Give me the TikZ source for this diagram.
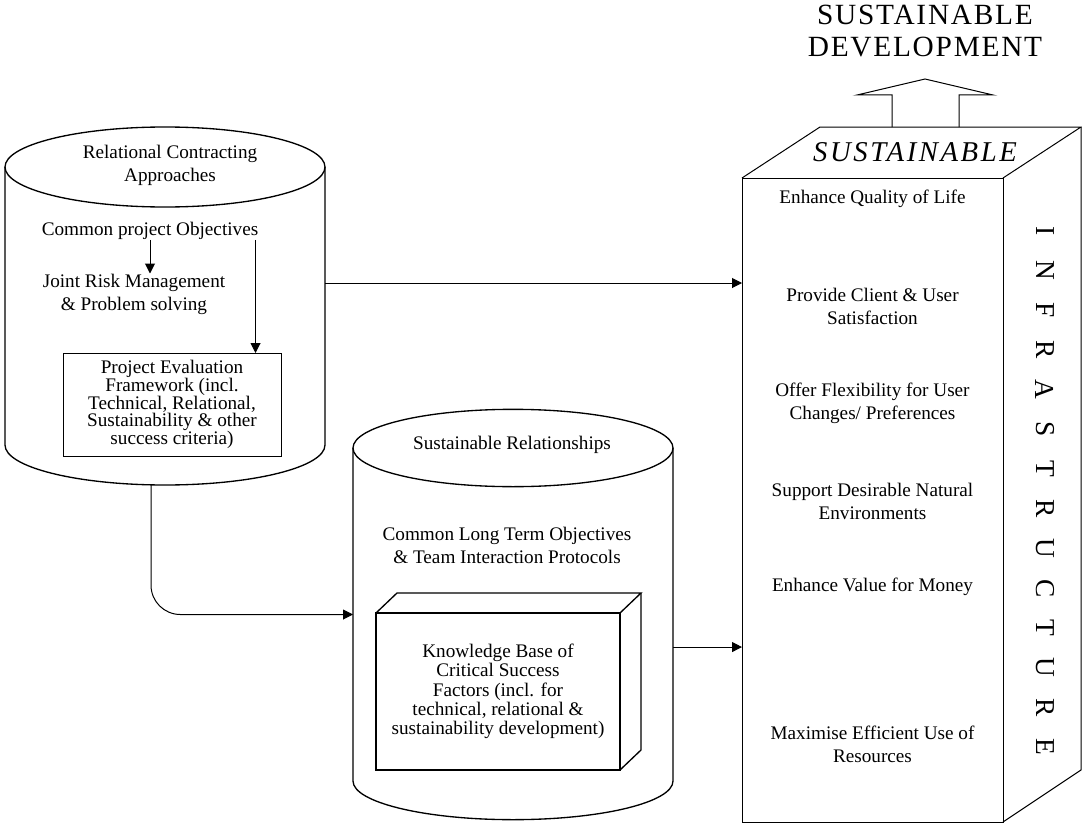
\documentclass[tikz,border=0pt]{standalone}
\usepackage{fontspec}
\setmainfont{Liberation Serif}
\usetikzlibrary{arrows.meta}
\tikzstyle{can} = [rectangle, draw=none, inner sep=0pt, outer sep=0pt, minimum width=240pt]
\tikzstyle{canline} = [draw=black, line width=1pt]
\tikzstyle{frame} = [rectangle, draw=black, line width=0.75pt, inner sep=0pt, outer sep=0pt, align=center]
\tikzstyle{txt} = [align=center, inner sep=0pt, font=\fontsize{14.4}{17.25}\selectfont]
\tikzstyle{big} = [align=center, inner sep=0pt, font=\fontsize{22}{24}\selectfont\addfontfeature{LetterSpace=6}]
\tikzstyle{letter} = [inner sep=0pt, rotate=-90, font=\fontsize{20.5}{20.5}\selectfont]
\tikzstyle{arrow} = [line width=0.75pt, -{Triangle[length=7.5pt, width=7.5pt]}]

\begin{document}
\begin{tikzpicture}[x=0.75pt, y=-0.75pt]
\useasboundingbox (0,0) rectangle (1082,824);

% left cylinder
\node (rca) [can, minimum height=268.5pt] at (165,306) {};
\draw [canline] (165,167) ellipse [x radius=120pt, y radius=30pt];
\draw [canline] (5,167) -- (5,445) arc [start angle=180, end angle=360, x radius=120pt, y radius=30pt] -- (325,167);
\node (rcat) [txt] at (170,165) {Relational Contracting\\Approaches};
\node (obj) [txt] at (150,231) {Common project Objectives};
\node (risk) [txt] at (134,294) {Joint Risk Management\\\& Problem solving};
\node (pef) [frame, minimum width=163.5pt, minimum height=77.25pt, font=\fontsize{14.4}{13.3}\selectfont] at (172,404.5) {Project Evaluation\\Framework (incl.\\Technical, Relational,\\Sustainability \& other\\success criteria)};

% middle cylinder
\node (sr) [can, minimum height=308.25pt] at (513,614.5) {};
\draw [canline] (513,448) ellipse [x radius=120pt, y radius=29pt];
\draw [canline] (353,448) -- (353,781) arc [start angle=180, end angle=360, x radius=120pt, y radius=29pt] -- (673,448);
\node (srt) [txt] at (512,445) {Sustainable Relationships};
\node (ltobj) [txt] at (507,545) {Common Long Term Objectives\\\& Team Interaction Protocols};
\node (kb) [frame, line width=1pt, minimum width=183pt, minimum height=117.75pt, font=\fontsize{14.4}{14.5}\selectfont] at (498,691.5) {Knowledge Base of\\Critical Success\\Factors (incl. for\\technical, relational \&\\sustainability development)};
\draw [line width=1pt] (kb.north west) -- ++(21,-20) -- ++(244,0) -- (kb.north east);
\draw [line width=1pt] (kb.north east) ++(21,-20) -- ++(0,157) -- (kb.south east);

% infrastructure block
\node (infra) [frame, minimum width=195.75pt, minimum height=483pt] at (872.5,500) {};
\draw [line width=0.75pt] (infra.north west) -- ++(78,-51) -- ++(261,0) -- (infra.north east);
\draw [line width=0.75pt] (infra.north east) ++(78,-51) -- ++(0,643) -- (infra.south east);
\node (topt) [inner sep=0pt, font=\fontsize{21.5}{24}\selectfont\itshape\addfontfeature{LetterSpace=9}] at (915,152) {SUSTAINABLE};
\node (sd) [big] at (925,31) {SUSTAINABLE\\DEVELOPMENT};
\draw [line width=0.75pt] (892,127) -- (892,95) -- (857,95) -- (925,79) -- (993,95) -- (959,95) -- (959,127);

\node (q1) [txt] at (872.5,199) {Enhance Quality of Life};
\node (q2) [txt] at (872.5,306) {Provide Client \& User\\Satisfaction};
\node (q3) [txt] at (872.5,403) {Offer Flexibility for User\\Changes/ Preferences};
\node (q4) [txt] at (872.5,501) {Support Desirable Natural\\Environments};
\node (q5) [txt] at (872.5,587) {Enhance Value for Money};
\node (q6) [txt] at (872.5,744) {Maximise Efficient Use of\\Resources};

\foreach \ch [count=\i from 0] in {I,N,F,R,A,S,T,R,U,C,T,U,R,E}
  \node (ltr\i) [letter] at (1045,231+39.7*\i) {\ch};

% connectors
\coordinate (ra) at ([yshift=17.25pt]rca.east);
\coordinate (sa) at ([yshift=-24.4pt]sr.east);
\coordinate (la) at ([xshift=-2.25pt]obj.south east);
\draw [arrow] (ra) -- (ra -| infra.west);
\draw [arrow] (sa) -- (sa -| infra.west);
\draw [arrow, rounded corners=22pt] ([xshift=-10.5pt]rca.south) |- (sr.west);
\draw [arrow] (obj.south) -- (obj.south |- risk.north);
\draw [arrow] (la) -- (la |- pef.north);

\end{tikzpicture}
\end{document}
